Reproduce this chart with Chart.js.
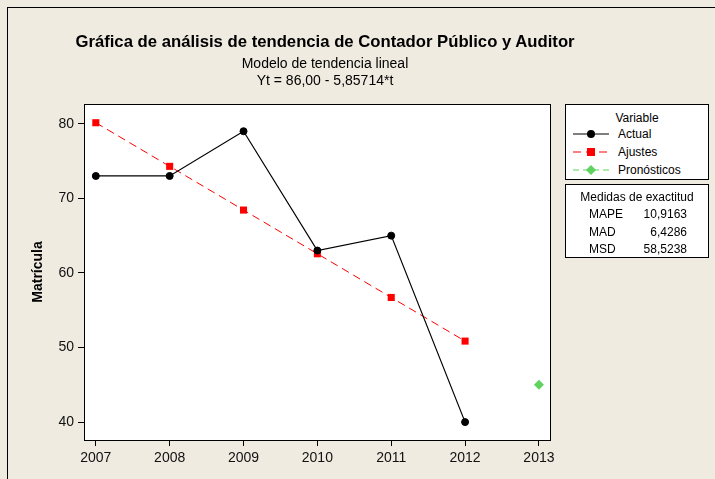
<!DOCTYPE html>
<html>
<head>
<meta charset="utf-8">
<script src="https://cdn.jsdelivr.net/npm/chart.js@4"></script>
<style>
  body { margin: 0; background: #efebe1; font-family: "Liberation Sans", Arial, sans-serif; color: #000; }
  #wrap { position: relative; width: 715px; height: 479px; overflow: hidden; }
  #frame { position: absolute; left: 7px; top: 7px; right: -2px; bottom: -2px; border-left: 1px solid #000; border-top: 1px solid #000; }
  canvas { position: absolute; left: 0; top: 0; }
  .t { position: absolute; left: 25px; width: 600px; text-align: center; white-space: nowrap; line-height: 1; }
  #titulo { top: 34px; font-size: 16.7px; font-weight: bold; }
  #sub1 { top: 56px; font-size: 14px; }
  #sub2 { top: 73px; font-size: 14px; }
  .box { position: absolute; left: 565px; width: 142px; background: #fff; border: 1px solid #000; font-size: 12px; }
  .box div { position: absolute; white-space: nowrap; line-height: 1; }
  .head { left: 0; width: 100%; text-align: center; }
  .box svg { position: absolute; left: 7px; }
</style>
</head>
<body>
<div id="wrap">
  <div id="frame"></div>
  <canvas id="trend" width="715" height="479"></canvas>
  <div class="t" id="titulo">Gráfica de análisis de tendencia de Contador Público y Auditor</div>
  <div class="t" id="sub1">Modelo de tendencia lineal</div>
  <div class="t" id="sub2">Yt = 86,00 - 5,85714*t</div>
  <div class="box" id="leyenda" style="top:104px;height:74px;"></div>
  <div class="box" id="medidas" style="top:184px;height:72px;"></div>
</div>
<script>
// Matrícula por año
const years = [2007, 2008, 2009, 2010, 2011, 2012];
const actual = [73, 73, 79, 63, 65, 40];
const ajustes = [80.14, 74.29, 68.43, 62.57, 56.71, 50.86];
const forecastYears = [2013];
const pronosticos = [45.00];

const xTicks = [2007, 2008, 2009, 2010, 2011, 2012, 2013];
const yTicks = [40, 50, 60, 70, 80];

const medidasNombres = ['MAPE', 'MAD', 'MSD'];
const medidasValores = ['10,9163', '6,4286', '58,5238'];

const GREEN = '#5fd35f';

Chart.defaults.font.family = '"Liberation Sans", Arial, sans-serif';
Chart.defaults.color = '#111';

const toPts = (xs, ys) => xs.map((x, i) => ({x: x, y: ys[i]}));

// white plot area with a full black frame
const plotBox = {
  id: 'plotBox',
  beforeDraw(chart) {
    const {ctx, chartArea: a} = chart;
    ctx.save();
    ctx.fillStyle = '#fff';
    ctx.fillRect(a.left, a.top, a.right - a.left, a.bottom - a.top);
    ctx.restore();
  },
  afterDraw(chart) {
    const {ctx, chartArea: a} = chart;
    ctx.save();
    ctx.strokeStyle = '#000';
    ctx.lineWidth = 1;
    ctx.strokeRect(Math.round(a.left) + 0.5, Math.round(a.top) + 0.5,
      Math.round(a.right - a.left), Math.round(a.bottom - a.top));
    ctx.restore();
  }
};

const tickGrid = {drawOnChartArea: false, color: '#000', lineWidth: 1, tickLength: 6};

const chart = new Chart(document.getElementById('trend'), {
  type: 'line',
  data: {
    datasets: [
      {label: 'Actual', data: toPts(years, actual), borderColor: '#000', backgroundColor: '#000',
       borderWidth: 1.2, pointStyle: 'circle', pointRadius: 3.5, pointBorderWidth: 1},
      {label: 'Ajustes', data: toPts(years, ajustes), borderColor: '#f00', backgroundColor: '#f00',
       borderWidth: 1, borderDash: [8, 5], pointStyle: 'rect', pointRadius: 5, pointBorderWidth: 0},
      {label: 'Pronósticos', data: toPts(forecastYears, pronosticos), borderColor: GREEN, backgroundColor: GREEN,
       borderWidth: 1, borderDash: [6, 4], pointStyle: 'rectRot', pointRadius: 5, pointBorderWidth: 0}
    ]
  },
  options: {
    responsive: false,
    animation: false,
    devicePixelRatio: 1,
    layout: {padding: {left: 0, top: 104, right: 165, bottom: 0}},
    plugins: {legend: {display: false}, tooltip: {enabled: false}},
    scales: {
      x: {
        type: 'linear', min: 2006.84, max: 2013.15,
        afterFit: s => { s.height = 39; },
        afterBuildTicks: s => { s.ticks = xTicks.map(v => ({value: v})); },
        grid: tickGrid,
        border: {display: false},
        ticks: {font: {size: 14}, padding: 4, maxRotation: 0, callback: v => String(v)}
      },
      y: {
        type: 'linear', min: 37.6, max: 82.65,
        afterFit: s => { s.width = 84; },
        afterBuildTicks: s => { s.ticks = yTicks.map(v => ({value: v})); },
        grid: tickGrid,
        border: {display: false},
        ticks: {font: {size: 14}, padding: 4, callback: v => String(v)},
        title: {display: true, text: 'Matrícula', color: '#000', font: {size: 14, weight: 'bold'}, padding: {top: 30, bottom: 0}}
      }
    }
  },
  plugins: [plotBox]
});

// legend boxes
function icon(ds) {
  const dash = ds.borderDash ? ` stroke-dasharray="${ds.borderDash.join(',')}"` : '';
  let mark;
  if (ds.pointStyle === 'circle') mark = `<circle cx="18" cy="6" r="4" fill="${ds.backgroundColor}"/>`;
  else if (ds.pointStyle === 'rect') mark = `<rect x="14" y="2" width="8" height="8" fill="${ds.backgroundColor}"/>`;
  else mark = `<polygon points="18,1 23,6 18,11 13,6" fill="${ds.backgroundColor}"/>`;
  return `<svg width="38" height="12" viewBox="0 0 38 12"><line x1="0" y1="6" x2="36" y2="6" stroke="${ds.borderColor}" stroke-width="1.2"${dash}/>${mark}</svg>`;
}

const leyenda = document.getElementById('leyenda');
let html = '<div class="head" style="top:7px">Variable</div>';
chart.data.datasets.forEach((ds, i) => {
  const cy = 29 + i * 18;
  html += `<div style="left:0;top:${cy - 6}px">${icon(ds)}</div>`;
  html += `<div style="left:52px;top:${cy - 6}px">${ds.label}</div>`;
});
leyenda.innerHTML = html;

const medidas = document.getElementById('medidas');
html = '<div class="head" style="top:6px">Medidas de exactitud</div>';
medidasNombres.forEach((n, i) => {
  const top = 23 + i * 17.5;
  html += `<div style="left:23px;top:${top}px">${n}</div>`;
  html += `<div style="right:21px;top:${top}px;text-align:right">${medidasValores[i]}</div>`;
});
medidas.innerHTML = html;
</script>
</body>
</html>
